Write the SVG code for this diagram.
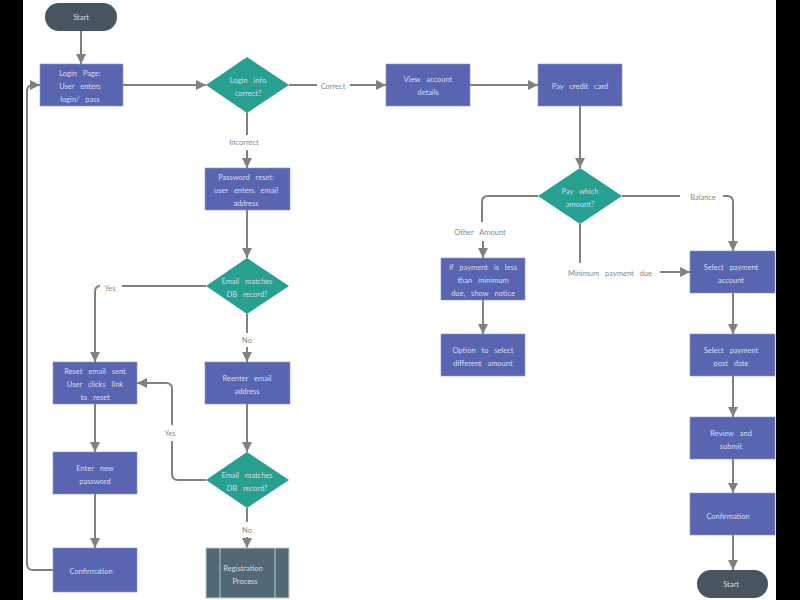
<svg xmlns="http://www.w3.org/2000/svg" width="800" height="600" viewBox="0 0 800 600">
<defs>
<marker id="ah" markerUnits="userSpaceOnUse" markerWidth="12" markerHeight="12" refX="10" refY="6" orient="auto">
<path d="M0,1 L10,6 L0,11 Z" fill="#808080"/>
</marker>
<style>
.bx{fill:#5A65B1;stroke:#8B93CF;stroke-width:0.6}
.dm{fill:#27A08F}
.pl{fill:#46555F}
.t{font-family:"Lato","Open Sans",sans-serif;font-size:7.5px;fill:#D6DBF2;text-anchor:middle;word-spacing:4px}
.lb{font-family:"Lato","Open Sans",sans-serif;font-size:7.5px;fill:#8A8A8A;text-anchor:middle;word-spacing:4px}
.c{fill:none;stroke:#808080;stroke-width:2}
.ca{fill:none;stroke:#808080;stroke-width:2;marker-end:url(#ah)}
</style>
</defs>
<rect width="800" height="600" fill="#ffffff"/>
<rect x="0" y="0" width="23" height="600" fill="#000000"/>
<rect x="776" y="0" width="24" height="600" fill="#000000"/>

<g id="connectors">
<path class="ca" d="M81,31 V64"/>
<path class="ca" d="M123,85 H206"/>
<path class="c" d="M289,85 H317"/>
<path class="ca" d="M350,85 H386"/>
<path class="ca" d="M470,85 H538"/>
<path class="ca" d="M580,106 V168"/>
<path class="c" d="M538,196 H488 Q482,196 482,202 V222"/>
<path class="ca" d="M483,241 V258"/>
<path class="ca" d="M483,300 V334"/>
<path class="c" d="M580,224 V263"/>
<path class="ca" d="M660,272 H690"/>
<path class="c" d="M622,196 H680"/>
<path class="ca" d="M723,196 H727 Q733,196 733,202 V251"/>
<path class="ca" d="M733,293 V334"/>
<path class="ca" d="M733,376 V417"/>
<path class="ca" d="M733,459 V493"/>
<path class="ca" d="M733,535 V570"/>
<path class="c" d="M247,113 V135"/>
<path class="ca" d="M247,150 V168"/>
<path class="ca" d="M247,210 V258"/>
<path class="c" d="M206,286 H122"/>
<path class="ca" d="M100,286 Q95,286 95,292 V362"/>
<path class="c" d="M247,314 V333"/>
<path class="ca" d="M247,347 V362"/>
<path class="ca" d="M247,404 V452"/>
<path class="c" d="M206,480 H178 Q172,480 172,474 V441"/>
<path class="ca" d="M172,425 V389 Q172,383 166,383 H137"/>
<path class="c" d="M247,508 V522"/>
<path class="ca" d="M247,537 V548"/>
<path class="ca" d="M95,404 V452"/>
<path class="ca" d="M95,494 V548"/>
<path class="ca" d="M53,570 H33 Q27,570 27,564 V91 Q27,85 33,85 H40"/>
</g>
<g id="labels">
<text class="lb" x="333" y="89">Correct</text>
<text class="lb" x="244" y="145">Incorrect</text>
<text class="lb" x="480" y="235">Other Amount</text>
<text class="lb" x="610" y="276">Minimum payment due</text>
<text class="lb" x="703" y="200">Balance</text>
<text class="lb" x="110" y="291">Yes</text>
<text class="lb" x="247" y="343">No</text>
<text class="lb" x="170" y="436">Yes</text>
<text class="lb" x="247" y="533">No</text>
</g>

<g id="start1"><rect class="pl" x="45" y="3" width="72" height="28" rx="14"/><text class="t" x="81" y="20">Start</text></g>
<g id="login"><rect class="bx" x="40" y="64" width="83" height="42"/><text class="t" x="80" y="76">Login Page:</text><text class="t" x="80" y="89">User enters</text><text class="t" x="80" y="102">login/ pass</text></g>
<g id="d-login"><path class="dm" d="M247,57 L289,85 L247,113 L206,85 Z"/><text class="t" x="248" y="83">Login info</text><text class="t" x="248" y="96">correct?</text></g>
<g id="view"><rect class="bx" x="386" y="64" width="84" height="42"/><text class="t" x="428" y="82">View account</text><text class="t" x="428" y="95">details</text></g>
<g id="pay"><rect class="bx" x="538" y="64" width="84" height="42"/><text class="t" x="580" y="89">Pay credit card</text></g>
<g id="d-pay"><path class="dm" d="M580,168 L622,196 L580,224 L538,196 Z"/><text class="t" x="580" y="194">Pay which</text><text class="t" x="580" y="207">amount?</text></g>
<g id="ifpay"><rect class="bx" x="441" y="258" width="84" height="42"/><text class="t" x="483" y="270">If payment is less</text><text class="t" x="483" y="283">than minimum</text><text class="t" x="483" y="296">due, show notice</text></g>
<g id="option"><rect class="bx" x="441" y="334" width="84" height="42"/><text class="t" x="483" y="353">Option to select</text><text class="t" x="483" y="366">different amount</text></g>
<g id="selacc"><rect class="bx" x="690" y="251" width="85" height="42"/><text class="t" x="731" y="270">Select payment</text><text class="t" x="731" y="283">account</text></g>
<g id="seldate"><rect class="bx" x="690" y="334" width="85" height="42"/><text class="t" x="731" y="353">Select payment</text><text class="t" x="731" y="366">post date</text></g>
<g id="review"><rect class="bx" x="690" y="417" width="85" height="42"/><text class="t" x="731" y="436">Review and</text><text class="t" x="731" y="449">submit</text></g>
<g id="confirm2"><rect class="bx" x="690" y="493" width="85" height="42"/><text class="t" x="728" y="519">Confirmation</text></g>
<g id="start2"><rect class="pl" x="697" y="570" width="71" height="28" rx="14"/><text class="t" x="731" y="587">Start</text></g>
<g id="pwreset"><rect class="bx" x="205" y="168" width="85" height="42"/><text class="t" x="246" y="180">Password reset:</text><text class="t" x="246" y="193">user enters email</text><text class="t" x="246" y="206">address</text></g>
<g id="d-email1"><path class="dm" d="M247,258 L289,286 L247,314 L206,286 Z"/><text class="t" x="247" y="284">Email matches</text><text class="t" x="247" y="297">DB record?</text></g>
<g id="resetsent"><rect class="bx" x="53" y="362" width="84" height="42"/><text class="t" x="95" y="374">Reset email sent</text><text class="t" x="95" y="387">User clicks link</text><text class="t" x="95" y="400">to reset</text></g>
<g id="reenter"><rect class="bx" x="205" y="362" width="85" height="42"/><text class="t" x="247" y="381">Reenter email</text><text class="t" x="247" y="394">address</text></g>
<g id="d-email2"><path class="dm" d="M247,452 L289,480 L247,508 L206,480 Z"/><text class="t" x="247" y="478">Email matches</text><text class="t" x="247" y="491">DB record?</text></g>
<g id="newpw"><rect class="bx" x="53" y="452" width="84" height="42"/><text class="t" x="95" y="471">Enter new</text><text class="t" x="95" y="484">password</text></g>
<g id="confirm1"><rect class="bx" x="53" y="548" width="84" height="44"/><text class="t" x="91" y="574">Confirmation</text></g>
<g id="registration"><rect x="206" y="548" width="83" height="50" fill="#526875" stroke="#B8CCD6" stroke-width="1"/><line x1="220" y1="548" x2="220" y2="598" stroke="#B8CCD6" stroke-width="1"/><line x1="275" y1="548" x2="275" y2="598" stroke="#B8CCD6" stroke-width="1"/><text class="t" x="243" y="571">Registration</text><text class="t" x="245" y="584">Process</text></g>
</svg>
